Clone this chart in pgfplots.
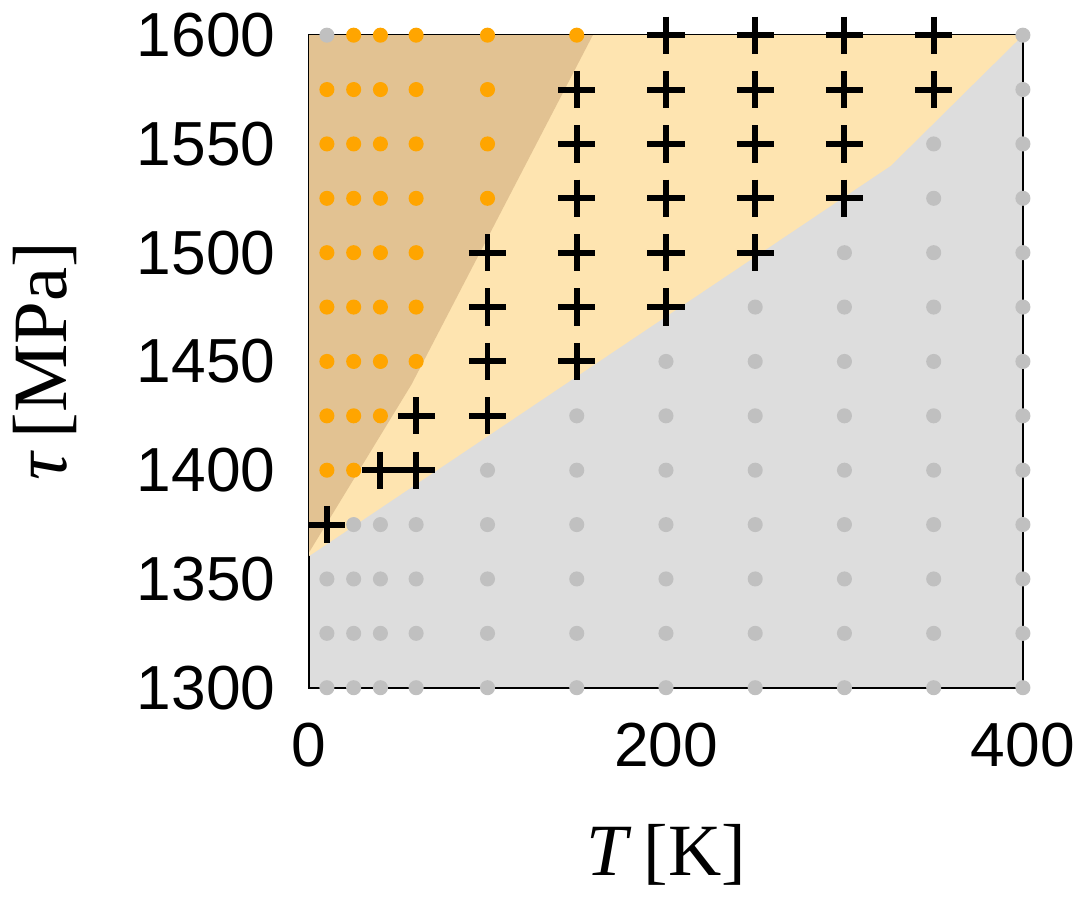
\documentclass[border=0pt]{standalone}
\usepackage{fontspec}
\setmainfont{Liberation Serif}
\setsansfont{Liberation Sans}
\usepackage{pgfplots}
\pgfplotsset{compat=1.18}
\usepackage{pgfplotstable}

\definecolor{phasegrey}{RGB}{221,221,221}
\definecolor{phaselight}{RGB}{254,228,176}
\definecolor{phasetan}{RGB}{226,194,146}
\definecolor{dotorange}{RGB}{255,165,0}
\definecolor{dotgrey}{RGB}{192,192,192}

% simulation grid points, classified by outcome
\pgfplotstableread{
T tau
25 1600
40 1600
60 1600
100 1600
150 1600
10 1575
25 1575
40 1575
60 1575
100 1575
10 1550
25 1550
40 1550
60 1550
100 1550
10 1525
25 1525
40 1525
60 1525
100 1525
10 1500
25 1500
40 1500
60 1500
10 1475
25 1475
40 1475
60 1475
10 1450
25 1450
40 1450
60 1450
10 1425
25 1425
40 1425
10 1400
25 1400
}\orangepts

\pgfplotstableread{
T tau
200 1600
250 1600
300 1600
350 1600
150 1575
200 1575
250 1575
300 1575
350 1575
150 1550
200 1550
250 1550
300 1550
150 1525
200 1525
250 1525
300 1525
100 1500
150 1500
200 1500
250 1500
100 1475
150 1475
200 1475
100 1450
150 1450
60 1425
100 1425
40 1400
60 1400
10 1375
}\crosspts

\pgfplotstableread{
T tau
10 1600
400 1600
400 1575
350 1550
400 1550
350 1525
400 1525
300 1500
350 1500
400 1500
250 1475
300 1475
350 1475
400 1475
200 1450
250 1450
300 1450
350 1450
400 1450
150 1425
200 1425
250 1425
300 1425
350 1425
400 1425
100 1400
150 1400
200 1400
250 1400
300 1400
350 1400
400 1400
25 1375
40 1375
60 1375
100 1375
150 1375
200 1375
250 1375
300 1375
350 1375
400 1375
10 1350
25 1350
40 1350
60 1350
100 1350
150 1350
200 1350
250 1350
300 1350
350 1350
400 1350
10 1325
25 1325
40 1325
60 1325
100 1325
150 1325
200 1325
250 1325
300 1325
350 1325
400 1325
10 1300
25 1300
40 1300
60 1300
100 1300
150 1300
200 1300
250 1300
300 1300
350 1300
400 1300
}\greypts

\begin{document}
\begin{tikzpicture}
\begin{axis}[
  scale only axis,
  width=180.5bp, height=165bp,
  xmin=0, xmax=400, ymin=1300, ymax=1600,
  xtick={0,200,400},
  ytick={1300,1350,...,1600},
  major tick length=0pt,
  clip=false,
  axis background/.style={fill=phasegrey},
  axis line style={line width=0.5bp},
  tick label style={font=\fontsize{15.8}{18}\selectfont\sffamily},
  /pgf/number format/assume math mode=true,
  /pgf/number format/1000 sep={},
  yticklabel style={xshift=-5bp},
  xticklabel style={yshift=-5.5bp},
  xlabel={\textit{T}\,[K]},
  ylabel={\textit{τ}\,[MPa]},
  every axis x label/.style={at={(axis description cs:0.5,-0.288)},anchor=base,
    font=\fontsize{18.7}{21}\selectfont},
  every axis y label/.style={at={(axis description cs:-0.37,0.5)},rotate=90,anchor=center,
    font=\fontsize{19.5}{22}\selectfont},
]
  % phase regions
  \addplot[fill=phaselight, draw=none] coordinates {
    (0,1360.5) (326,1540) (400,1600) (0,1600)} -- cycle;
  \addplot[fill=phasetan, draw=none] coordinates {
    (0,1362.2) (57.4,1439.4) (159,1600) (0,1600)} -- cycle;

  % grid points
  \addplot[only marks, mark=*, mark size=1.7bp, dotorange, mark options={draw=none, fill=dotorange}]
    table[x=T, y=tau] {\orangepts};
  \addplot[only marks, mark=*, mark size=1.7bp, dotgrey, mark options={draw=none, fill=dotgrey}]
    table[x=T, y=tau] {\greypts};
  \addplot[only marks, mark=+, mark size=4.7bp, black, line width=1.5bp, mark options={line width=1.5bp}]
    table[x=T, y=tau] {\crosspts};
\end{axis}
\end{tikzpicture}
\end{document}
